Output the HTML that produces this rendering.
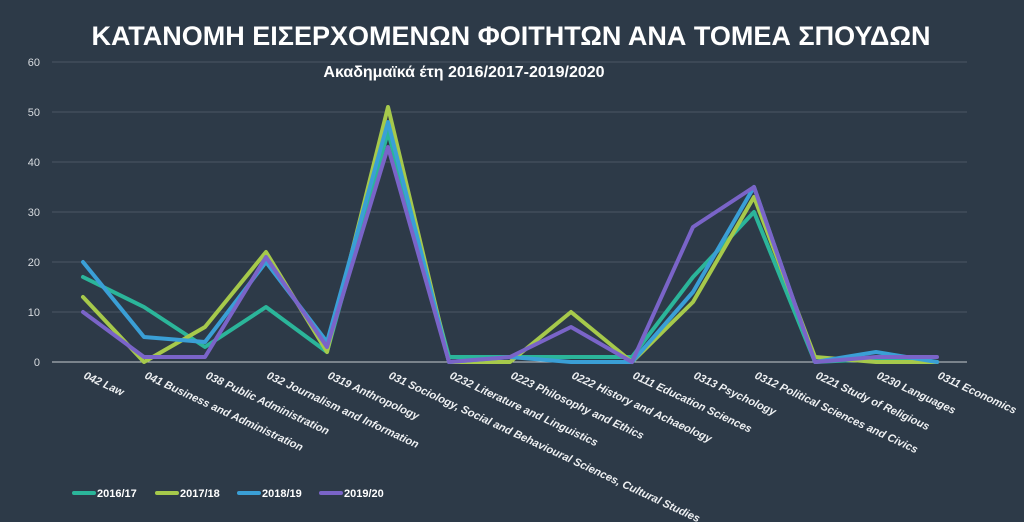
<!DOCTYPE html>
<html><head><meta charset="utf-8"><style>
body{margin:0;background:#2d3a48;}
svg{display:block}
text{font-family:"Liberation Sans","DejaVu Sans",sans-serif;}
</style></head><body>
<svg width="1024" height="522" viewBox="0 0 1024 522">
<rect width="1024" height="522" fill="#2d3a48"/>
<text x="511" y="45" text-anchor="middle" fill="#fff" font-size="27" font-weight="bold">ΚΑΤΑΝΟΜΗ ΕΙΣΕΡΧΟΜΕΝΩΝ ΦΟΙΤΗΤΩΝ ΑΝΑ ΤΟΜΕΑ ΣΠΟΥΔΩΝ</text>
<text x="464" y="77" text-anchor="middle" fill="#fff" font-size="16" font-weight="bold">Ακαδημαϊκά έτη 2016/2017-2019/2020</text>
<g stroke="#4a5664" stroke-width="1">
<line x1="52" y1="62" x2="967" y2="62"/><line x1="52" y1="112" x2="967" y2="112"/><line x1="52" y1="162" x2="967" y2="162"/><line x1="52" y1="212" x2="967" y2="212"/><line x1="52" y1="262" x2="967" y2="262"/><line x1="52" y1="312" x2="967" y2="312"/>
</g>
<line x1="52" y1="362" x2="967" y2="362" stroke="#c8ccd0" stroke-width="1"/>
<g fill="#d8dce0" font-size="11" text-anchor="end">
<text x="40" y="66">60</text><text x="40" y="116">50</text><text x="40" y="166">40</text><text x="40" y="216">30</text><text x="40" y="266">20</text><text x="40" y="316">10</text><text x="40" y="366">0</text>
</g>
<g fill="none" stroke-width="4" stroke-linejoin="round" stroke-linecap="round">
<polyline stroke="#2bb59a" points="83,277 144,307 205,347 266,307 327,352 388,132 449,357 510,357 571,357 632,357 693,277 754,212 815,362 876,359 937,362"/>
<polyline stroke="#a6c94b" points="83,297 144,362 205,327 266,252 327,352 388,107 449,362 510,362 571,312 632,362 693,302 754,197 815,357 876,362 937,362"/>
<polyline stroke="#3a9fd6" points="83,262 144,337 205,342 266,262 327,342 388,122 449,362 510,357 571,362 632,362 693,292 754,187 815,362 876,352 937,362"/>
<polyline stroke="#7a64c8" points="83,312 144,357 205,357 266,257 327,347 388,147 449,362 510,357 571,327 632,362 693,227 754,187 815,362 876,357 937,357"/>
</g>
<g fill="#eef0f2" font-size="11" font-weight="bold" font-style="italic">
<text transform="translate(83,378) rotate(25)">042 Law</text>
<text transform="translate(144,378) rotate(25)">041 Business and Administration</text>
<text transform="translate(205,378) rotate(25)">038 Public Administration</text>
<text transform="translate(266,378) rotate(25)">032 Journalism and Information</text>
<text transform="translate(327,378) rotate(25)">0319 Anthropology</text>
<text transform="translate(388,378) rotate(25)">031 Sociology, Social and Behavioural Sciences, Cultural Studies</text>
<text transform="translate(449,378) rotate(25)">0232 Literature and Linguistics</text>
<text transform="translate(510,378) rotate(25)">0223 Philosophy and Ethics</text>
<text transform="translate(571,378) rotate(25)">0222 History and Achaeology</text>
<text transform="translate(632,378) rotate(25)">0111 Education Sciences</text>
<text transform="translate(693,378) rotate(25)">0313 Psychology</text>
<text transform="translate(754,378) rotate(25)">0312 Political Sciences and Civics</text>
<text transform="translate(815,378) rotate(25)">0221 Study of Religious</text>
<text transform="translate(876,378) rotate(25)">0230 Languages</text>
<text transform="translate(937,378) rotate(25)">0311 Economics</text>
</g>
<g stroke-width="4" stroke-linecap="round">
<line x1="74" y1="493" x2="94" y2="493" stroke="#2bb59a"/>
<line x1="157" y1="493" x2="177" y2="493" stroke="#a6c94b"/>
<line x1="239" y1="493" x2="259" y2="493" stroke="#3a9fd6"/>
<line x1="321" y1="493" x2="341" y2="493" stroke="#7a64c8"/>
</g>
<g fill="#fff" font-size="11" font-weight="bold">
<text x="97" y="497">2016/17</text><text x="180" y="497">2017/18</text><text x="262" y="497">2018/19</text><text x="344" y="497">2019/20</text>
</g>
</svg>
</body></html>
